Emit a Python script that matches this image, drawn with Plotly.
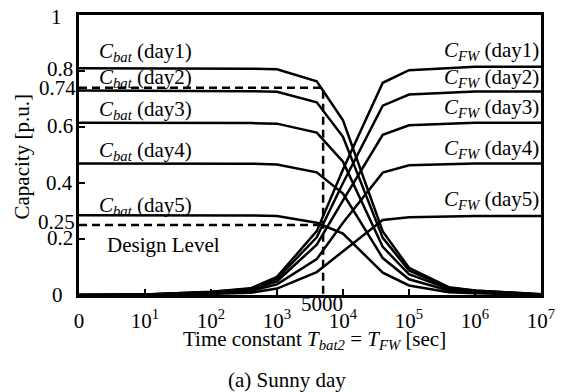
import plotly.graph_objects as go

# Time constant grid [sec]
T = [1, 10, 100, 400, 1000, 4000, 1e4, 4e4, 1e5, 4e5, 1e6, 1e7]

cbat_day1 = [0.81, 0.81, 0.81, 0.808, 0.806, 0.763, 0.624, 0.227, 0.097, 0.028, 0.016, 0.003]
cbat_day2 = [0.73, 0.73, 0.73, 0.728, 0.726, 0.688, 0.565, 0.204, 0.088, 0.026, 0.015, 0.003]
cbat_day3 = [0.615, 0.615, 0.615, 0.614, 0.612, 0.580, 0.476, 0.172, 0.074, 0.022, 0.012, 0.002]
cbat_day4 = [0.47, 0.47, 0.47, 0.469, 0.466, 0.438, 0.362, 0.132, 0.056, 0.016, 0.009, 0.002]
cbat_day5 = [0.285, 0.285, 0.285, 0.284, 0.282, 0.258, 0.219, 0.080, 0.034, 0.010, 0.006, 0.001]

cfw_day1 = [0.0, 0.002, 0.012, 0.024, 0.065, 0.228, 0.448, 0.758, 0.803, 0.811, 0.815, 0.815]
cfw_day2 = [0.0, 0.002, 0.011, 0.022, 0.058, 0.206, 0.400, 0.676, 0.716, 0.723, 0.727, 0.727]
cfw_day3 = [0.0, 0.002, 0.009, 0.018, 0.049, 0.180, 0.338, 0.572, 0.606, 0.612, 0.615, 0.615]
cfw_day4 = [0.0, 0.001, 0.007, 0.014, 0.038, 0.128, 0.258, 0.437, 0.463, 0.468, 0.470, 0.470]
cfw_day5 = [0.0, 0.001, 0.004, 0.008, 0.023, 0.082, 0.155, 0.268, 0.278, 0.281, 0.282, 0.282]

design_T = 5000
design_cap = [0.74, 0.25]

x_tickvals = [1, 10, 100, 1000, 1e4, 1e5, 1e6, 1e7]
x_ticktext = ["0", "10<sup>1</sup>", "10<sup>2</sup>", "10<sup>3</sup>", "10<sup>4</sup>",
              "10<sup>5</sup>", "10<sup>6</sup>", "10<sup>7</sup>"]
y_tickvals = [0, 0.2, 0.25, 0.4, 0.6, 0.74, 0.8, 1]
y_ticktext = ["0", "0.2", "0.25", "0.4", "0.6", "0.74", "0.8", "1"]

FONT = "Liberation Serif"
FS = 21
PL, PR, PT, PB = 79, 543, 14, 295.5


def px(xp):
    return (xp - PL) / (PR - PL)


def py(yp):
    return (PB - yp) / (PB - PT)


fig = go.Figure()

for ys in [cbat_day1, cbat_day2, cbat_day3, cbat_day4, cbat_day5,
           cfw_day1, cfw_day2, cfw_day3, cfw_day4, cfw_day5]:
    fig.add_trace(go.Scatter(x=T, y=ys, mode="lines",
                             line=dict(color="black", width=2.5), showlegend=False))

# design level dashed lines
fig.add_trace(go.Scatter(x=[1, design_T, design_T], y=[design_cap[0], design_cap[0], 0],
                         mode="lines", line=dict(color="black", width=2.5, dash="8px,5px"),
                         showlegend=False))
fig.add_trace(go.Scatter(x=[1, design_T], y=[design_cap[1], design_cap[1]],
                         mode="lines", line=dict(color="black", width=2.5, dash="8px,5px"),
                         showlegend=False))

ann = []


def txt(x, y, s, xa="center", size=FS, angle=0):
    ann.append(dict(x=px(x), y=py(y), xref="paper", yref="paper", xanchor=xa,
                    yanchor="middle", showarrow=False, text=s, textangle=angle,
                    font=dict(family=FONT, size=size, color="black")))


cbat_y = [51, 77, 110, 151, 206]
fw_y = [50, 77, 108, 149, 200]
for i in range(5):
    txt(97, cbat_y[i], "<i>C</i><sub><i>bat</i></sub> (day%d)" % (i + 1), xa="left")
    txt(543, fw_y[i], "<i>C</i><sub><i>FW</i></sub> (day%d)" % (i + 1), xa="right")
txt(105, 245, "Design Level", xa="left")
txt(323, 305, "5000")
txt(316, 341, "Time constant <i>T</i><sub><i>bat2</i></sub> = <i>T</i><sub><i>FW</i></sub> [sec]")
txt(288, 381, "(a) Sunny day", size=21)
txt(22, 157, "Capacity [p.u.]", angle=-90)

# y tick labels (placed individually as in the reference)
ylab = [("1", 64, 16), ("0.8", 75, 68), ("0.74", 78, 87), ("0.6", 75, 126),
        ("0.4", 75, 183), ("0.25", 77, 222), ("0.2", 75, 238), ("0", 65, 296)]
for s, xr, yc in ylab:
    txt(xr, yc, s, xa="right")

fig.update_layout(
    width=567, height=392,
    margin=dict(l=PL, r=567 - PR, t=PT, b=392 - PB),
    paper_bgcolor="white", plot_bgcolor="white",
    font=dict(family=FONT, size=FS, color="black"),
    annotations=ann,
    xaxis=dict(type="log", range=[0, 7], tickvals=x_tickvals, ticktext=x_ticktext,
               ticks="inside", ticklen=6, tickwidth=2, tickcolor="black",
               showline=True, linecolor="black", linewidth=3, mirror=True,
               showgrid=False, zeroline=False, ticklabelstandoff=5,
               tickfont=dict(family=FONT, size=FS, color="black")),
    yaxis=dict(range=[0, 1], tickvals=y_tickvals, ticktext=[""] * len(y_tickvals),
               ticks="inside", ticklen=6, tickwidth=2, tickcolor="black",
               showline=True, linecolor="black", linewidth=3, mirror=True,
               showgrid=False, zeroline=False),
)

fig.write_html("out.html")
